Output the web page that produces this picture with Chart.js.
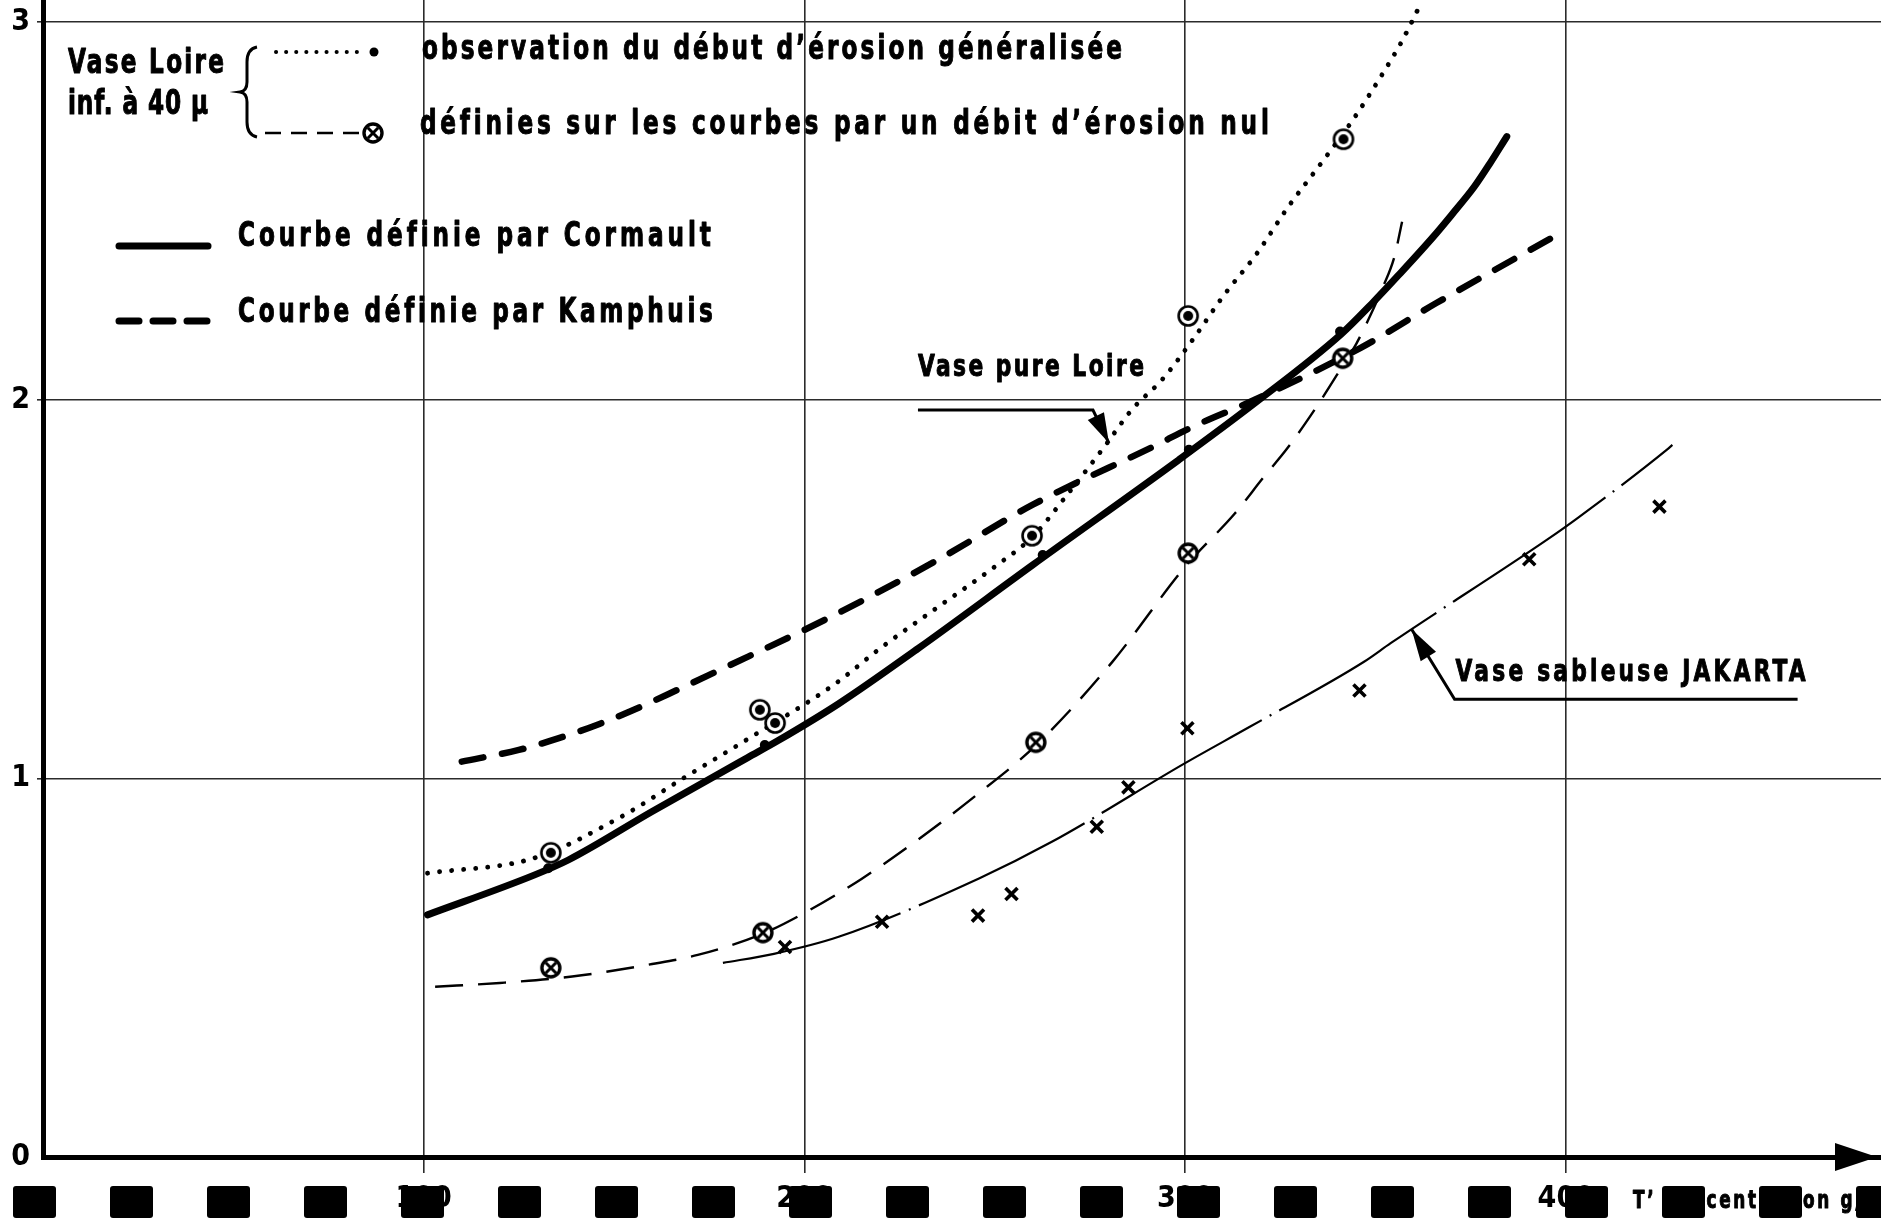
<!DOCTYPE html>
<html lang="fr">
<head>
<meta charset="utf-8">
<title>Début d'érosion</title>
<script src="https://cdn.jsdelivr.net/npm/chart.js@4.4.1/dist/chart.umd.min.js"></script>
<style>
  html, body { margin: 0; padding: 0; background: #fff; }
  canvas { display: block; }
</style>
</head>
<body>
<canvas id="graphique" width="1881" height="1222"></canvas>
<script>
// ================== DONNÉES ==================
// Vase Loire inf. à 40 µ : observation du début d'érosion généralisée (pointillé)
const observationX = [101, 129, 152, 168, 186, 208, 220, 236, 250, 260, 269, 279, 286, 294, 302, 310, 319, 327, 336, 344, 352, 357, 362];
const observationY = [0.75, 0.79, 0.90, 1.00, 1.11, 1.25, 1.345, 1.46, 1.56, 1.64, 1.75, 1.88, 1.975, 2.055, 2.16, 2.275, 2.39, 2.51, 2.63, 2.74, 2.865, 2.95, 3.05];
const pointsObservationX = [133.4, 188.3, 192.3, 259.8, 300.8, 341.6];
const pointsObservationY = [0.804, 1.182, 1.147, 1.642, 2.223, 2.690];

// Vase Loire : définies sur les courbes par un débit d'érosion nul (tireté fin)
const debitNulX = [103, 120, 139, 160, 172, 189, 200, 215, 230, 245, 261, 281, 300, 313, 320.5, 327, 335, 341, 345, 348, 352, 355, 357];
const debitNulY = [0.45, 0.46, 0.477, 0.51, 0.534, 0.59, 0.645, 0.735, 0.84, 0.955, 1.09, 1.31, 1.56, 1.70, 1.795, 1.875, 1.99, 2.085, 2.15, 2.21, 2.30, 2.38, 2.472];
const pointsDebitNulX = [133.4, 189.1, 260.8, 300.8, 341.4];
const pointsDebitNulY = [0.500, 0.593, 1.096, 1.596, 2.111];

// Courbe définie par Cormault
const cormaultX = [101, 129, 138, 160, 185, 193, 209, 230, 260, 298, 318, 341, 349, 356, 365, 370, 376, 380, 384.5];
const cormaultY = [0.64, 0.745, 0.785, 0.913, 1.055, 1.10, 1.198, 1.345, 1.565, 1.84, 1.99, 2.175, 2.255, 2.33, 2.43, 2.49, 2.565, 2.625, 2.697];
const pointsCormaultX = [132.7, 189.6, 262.6, 301.0, 340.7];
const pointsCormaultY = [0.763, 1.089, 1.591, 1.869, 2.182];

// Courbe définie par Kamphuis
const kamphuisX = [110, 125, 135.5, 146, 157, 166.5, 177.5, 207, 235, 260, 292.5, 302, 318, 346, 366, 400];
const kamphuisY = [1.045, 1.076, 1.107, 1.144, 1.19, 1.234, 1.286, 1.428, 1.578, 1.724, 1.882, 1.93, 2.0, 2.138, 2.257, 2.45];

// Vase sableuse JAKARTA
const jakartaX = [178.6, 192, 209, 246, 265, 300, 317, 347, 354, 395, 403, 426.5, 428];
const jakartaY = [0.513, 0.537, 0.582, 0.737, 0.833, 1.041, 1.137, 1.309, 1.358, 1.631, 1.688, 1.869, 1.882];
const mesuresJakartaX = [194.9, 220.4, 245.6, 254.4, 276.8, 285.1, 300.6, 345.8, 390.4, 424.6];
const mesuresJakartaY = [0.555, 0.622, 0.638, 0.695, 0.873, 0.977, 1.133, 1.233, 1.580, 1.719];

// Axes
const ticksX = [100, 200, 300, 400];
const ticksY = [0, 1, 2, 3];

// Pointes des flèches des étiquettes (en unités des axes)
const pointeLoire = { x: 280, y: 1.887 };
const pointeJakarta = { x: 359.5, y: 1.395 };

// ================== STYLE ==================
const POLICE = "'Liberation Sans Narrow', 'DejaVu Sans Condensed', 'DejaVu Sans', sans-serif";
const NOIR = '#000';
const GRILLE = '#2b2b2b';
const ETROIT = 0.78; // compression horizontale des lettres

const points = (xs, ys) => xs.map((x, i) => ({ x: x, y: ys[i] }));

function creerMarqueur(taille, dessin) {
    const c = document.createElement('canvas');
    c.width = taille;
    c.height = taille;
    const g = c.getContext('2d');
    g.strokeStyle = NOIR;
    g.fillStyle = NOIR;
    dessin(g, taille / 2);
    return c;
}

// ◎ : cercle avec point central
const marqueurObservation = creerMarqueur(26, (g, m) => {
    g.beginPath();
    g.arc(m, m, 9.5, 0, Math.PI * 2);
    g.fillStyle = '#fff';
    g.fill();
    g.lineWidth = 2.6;
    g.stroke();
    g.beginPath();
    g.arc(m, m, 5, 0, Math.PI * 2);
    g.fillStyle = NOIR;
    g.fill();
});

// ⊗ : cercle barré
const marqueurDebitNul = creerMarqueur(26, (g, m) => {
    g.beginPath();
    g.arc(m, m, 9, 0, Math.PI * 2);
    g.fillStyle = '#fff';
    g.fill();
    g.lineWidth = 3.4;
    g.stroke();
    g.lineWidth = 3;
    const d = 5.2;
    g.beginPath();
    g.moveTo(m - d, m - d); g.lineTo(m + d, m + d);
    g.moveTo(m + d, m - d); g.lineTo(m - d, m + d);
    g.stroke();
});

// Texte étroit et gras étiré sur une largeur donnée (lettres espacées)
function texteEtire(ctx, texte, x, y, largeur) {
    ctx.save();
    ctx.translate(x, y);
    ctx.scale(ETROIT, 1);
    ctx.letterSpacing = '0px';
    const w = ctx.measureText(texte).width;
    const n = [...texte].length;
    const cible = largeur / ETROIT;
    ctx.letterSpacing = (n > 1 ? (cible - w) / (n - 1) : 0) + 'px';
    ctx.lineWidth = 1;
    ctx.lineJoin = 'round';
    ctx.fillText(texte, 0, 0);
    ctx.strokeText(texte, 0, 0);
    ctx.restore();
}

function fleche(ctx, de, vers, longueur, demi) {
    const dx = vers.x - de.x, dy = vers.y - de.y;
    const d = Math.hypot(dx, dy);
    const ux = dx / d, uy = dy / d;
    const bx = vers.x - ux * longueur, by = vers.y - uy * longueur;
    ctx.beginPath();
    ctx.moveTo(vers.x, vers.y);
    ctx.lineTo(bx - uy * demi, by + ux * demi);
    ctx.lineTo(bx + uy * demi, by - ux * demi);
    ctx.closePath();
    ctx.fill();
}

function trait(ctx, x1, y1, x2, y2) {
    ctx.beginPath();
    ctx.moveTo(x1, y1);
    ctx.lineTo(x2, y2);
    ctx.stroke();
}

// ================== ANNOTATIONS ==================
const annotations = {
    id: 'annotations',
    afterDraw(chart) {
        const ctx = chart.ctx;
        const area = chart.chartArea;
        const sx = chart.scales.x, sy = chart.scales.y;
        ctx.save();
        ctx.fillStyle = NOIR;
        ctx.strokeStyle = NOIR;
        ctx.textBaseline = 'middle';

        // flèche au bout de l'axe des abscisses
        fleche(ctx, { x: area.left, y: area.bottom }, { x: area.right - 4, y: area.bottom }, 42, 14);

        // légende Vase Loire
        ctx.font = `bold 33px ${POLICE}`;
        texteEtire(ctx, 'Vase Loire', 68, 64, 156);
        texteEtire(ctx, 'inf. à 40 µ', 68, 105, 140);

        ctx.lineWidth = 3;
        ctx.beginPath();
        ctx.moveTo(257, 47);
        ctx.quadraticCurveTo(247, 49, 247, 62);
        ctx.lineTo(247, 82);
        ctx.quadraticCurveTo(247, 91, 240, 92);
        ctx.quadraticCurveTo(247, 93, 247, 102);
        ctx.lineTo(247, 122);
        ctx.quadraticCurveTo(247, 135, 257, 137);
        ctx.stroke();

        ctx.lineCap = 'round';
        ctx.lineWidth = 4;
        ctx.setLineDash([0.1, 10]);
        trait(ctx, 276, 52, 362, 52);
        ctx.setLineDash([]);
        ctx.beginPath();
        ctx.arc(374, 52, 4.5, 0, Math.PI * 2);
        ctx.fill();

        ctx.lineCap = 'butt';
        ctx.lineWidth = 2.4;
        ctx.setLineDash([16, 10]);
        trait(ctx, 265, 133, 362, 133);
        ctx.setLineDash([]);
        ctx.drawImage(marqueurDebitNul, 373 - 13, 133 - 13);

        texteEtire(ctx, 'observation du début d’érosion généralisée', 422, 50, 700);
        texteEtire(ctx, 'définies sur les courbes par un débit d’érosion nul', 420, 125, 848);

        // légende des courbes
        ctx.lineCap = 'round';
        ctx.lineWidth = 7;
        trait(ctx, 119, 246, 208, 246);
        ctx.setLineDash([20, 14]);
        trait(ctx, 119, 321, 208, 321);
        ctx.setLineDash([]);
        texteEtire(ctx, 'Courbe définie par Cormault', 238, 237, 472);
        texteEtire(ctx, 'Courbe définie par Kamphuis', 238, 313, 474);

        // Vase pure Loire
        ctx.lineCap = 'butt';
        ctx.lineWidth = 3;
        const pL = { x: sx.getPixelForValue(pointeLoire.x), y: sy.getPixelForValue(pointeLoire.y) };
        const cL = { x: pL.x - 16, y: pL.y - 33 };
        ctx.beginPath();
        ctx.moveTo(cL.x - 175, cL.y);
        ctx.lineTo(cL.x, cL.y);
        ctx.lineTo(pL.x, pL.y);
        ctx.stroke();
        fleche(ctx, cL, pL, 30, 9);
        ctx.font = `bold 31px ${POLICE}`;
        texteEtire(ctx, 'Vase pure Loire', cL.x - 175, cL.y - 42, 226);

        // Vase sableuse JAKARTA
        ctx.lineWidth = 3;
        const pJ = { x: sx.getPixelForValue(pointeJakarta.x), y: sy.getPixelForValue(pointeJakarta.y) };
        const cJ = { x: pJ.x + 43, y: pJ.y + 70 };
        ctx.beginPath();
        ctx.moveTo(pJ.x, pJ.y);
        ctx.lineTo(cJ.x, cJ.y);
        ctx.lineTo(cJ.x + 343, cJ.y);
        ctx.stroke();
        fleche(ctx, cJ, pJ, 32, 9);
        texteEtire(ctx, 'Vase sableuse JAKARTA', cJ.x + 1, cJ.y - 26, 350);

        // titre de l'axe des abscisses
        ctx.font = `bold 24px ${POLICE}`;
        texteEtire(ctx, 'T’ concentration g/l', 1633, 1202, 237);

        // bandeau de carrés noirs sous l'axe
        for (let k = 0; k < 20; k++) {
            ctx.beginPath();
            ctx.roundRect(13 + 97 * k, 1186, 43, 32, 3);
            ctx.fill();
        }
        ctx.restore();
    }
};

// ================== GRAPHIQUE ==================
const lissage = { pointRadius: 0, fill: false, cubicInterpolationMode: 'monotone', borderColor: NOIR };

new Chart(document.getElementById('graphique'), {
    type: 'line',
    data: {
        datasets: [
            {
                label: 'observation (points)',
                data: points(pointsObservationX, pointsObservationY),
                showLine: false,
                pointStyle: marqueurObservation,
                pointRadius: 10
            },
            {
                label: 'débit d’érosion nul (points)',
                data: points(pointsDebitNulX, pointsDebitNulY),
                showLine: false,
                pointStyle: marqueurDebitNul,
                pointRadius: 10
            },
            {
                label: 'Cormault (points)',
                data: points(pointsCormaultX, pointsCormaultY),
                showLine: false,
                pointStyle: 'circle',
                pointRadius: 5,
                pointBorderWidth: 0,
                pointBackgroundColor: NOIR
            },
            {
                label: 'Vase sableuse JAKARTA (mesures)',
                data: points(mesuresJakartaX, mesuresJakartaY),
                showLine: false,
                pointStyle: 'crossRot',
                pointRadius: 8.5,
                pointBorderWidth: 3.6,
                pointBorderColor: NOIR
            },
            {
                ...lissage,
                label: 'observation du début d’érosion généralisée',
                data: points(observationX, observationY),
                borderWidth: 4.8,
                borderDash: [0.1, 12],
                borderCapStyle: 'round'
            },
            {
                ...lissage,
                label: 'Courbe définie par Cormault',
                data: points(cormaultX, cormaultY),
                borderWidth: 7,
                borderCapStyle: 'round'
            },
            {
                ...lissage,
                label: 'Courbe définie par Kamphuis',
                data: points(kamphuisX, kamphuisY),
                borderWidth: 6.5,
                borderDash: [22, 19],
                borderCapStyle: 'round'
            },
            {
                ...lissage,
                label: 'définies par un débit d’érosion nul',
                data: points(debitNulX, debitNulY),
                borderWidth: 2.4,
                borderDash: [28, 15]
            },
            {
                ...lissage,
                label: 'Vase sableuse JAKARTA',
                data: points(jakartaX, jakartaY),
                borderWidth: 2.2,
                borderDash: [185, 9, 2, 9]
            }
        ]
    },
    options: {
        responsive: false,
        devicePixelRatio: 1,
        animation: false,
        events: [],
        layout: { padding: 0, autoPadding: false },
        font: { family: POLICE },
        plugins: {
            legend: { display: false },
            tooltip: { enabled: false }
        },
        scales: {
            x: {
                type: 'linear',
                min: 0,
                max: 482.8,
                afterBuildTicks: s => { s.ticks = ticksX.map(v => ({ value: v })); },
                afterFit: s => { s.height = 65; s.paddingLeft = 0; s.paddingRight = 0; },
                grid: { color: GRILLE, lineWidth: 1.6, tickLength: 16 },
                border: { display: true, color: NOIR, width: 5 },
                ticks: { color: NOIR, padding: 8, maxRotation: 0, font: { family: POLICE, size: 30, weight: 'bold' } }
            },
            y: {
                type: 'linear',
                min: 0,
                max: 3.058,
                afterBuildTicks: s => { s.ticks = ticksY.map(v => ({ value: v })); },
                afterFit: s => { s.width = 43; s.paddingTop = 0; s.paddingBottom = 0; },
                grid: {
                    color: c => (c.tick && c.tick.value === 0 ? 'rgba(0,0,0,0)' : GRILLE),
                    lineWidth: 1.6,
                    tickLength: 6
                },
                border: { display: true, color: NOIR, width: 5 },
                ticks: { color: NOIR, padding: 7, font: { family: POLICE, size: 30, weight: 'bold' } }
            }
        }
    },
    plugins: [annotations]
});
</script>
</body>
</html>
